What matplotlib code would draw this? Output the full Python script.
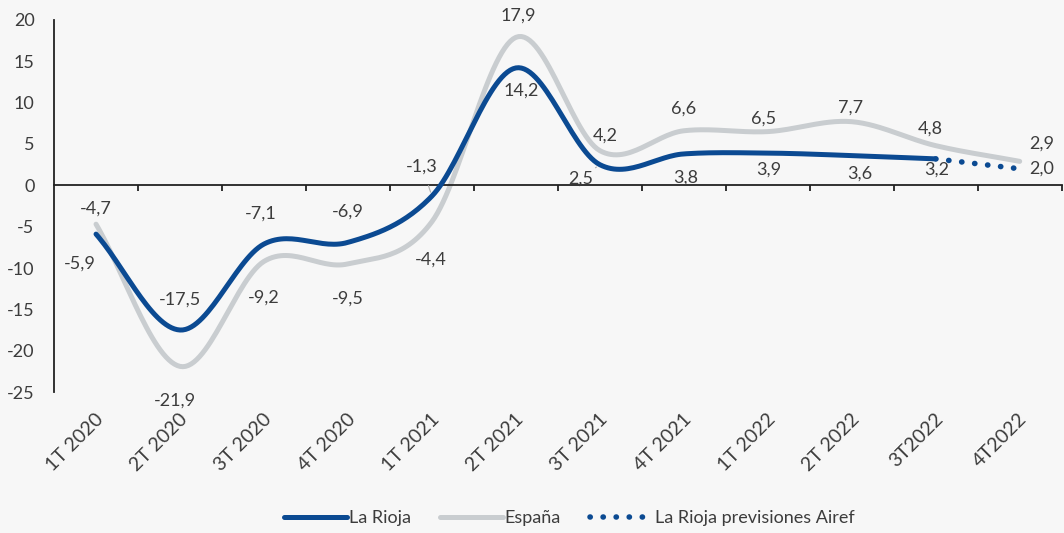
import numpy as np
import matplotlib
matplotlib.use('Agg')
import matplotlib.pyplot as plt
from matplotlib.lines import Line2D

# Data
quarters = ['1T 2020', '2T 2020', '3T 2020', '4T 2020', '1T 2021', '2T 2021',
            '3T 2021', '4T 2021', '1T 2022', '2T 2022', '3T2022', '4T2022']
rioja = [-5.9, -17.5, -7.1, -6.9, -1.3, 14.2, 2.5, 3.8, 3.9, 3.6, 3.2]
rioja_forecast = [3.2, 2.0]
espana = [-4.7, -21.9, -9.2, -9.5, -4.4, 17.9, 4.2, 6.6, 6.5, 7.7, 4.8, 2.9]

BLUE = '#0b4a92'
GREY = '#c9cdd0'
TXT = '#3c3c3c'
BG = '#f7f7f7'

plt.rcParams['font.family'] = ['Lato', 'DejaVu Sans']
plt.rcParams['axes.unicode_minus'] = False


def smooth(x, y, n=30):
    # Catmull-Rom style smoothing, similar to spreadsheet smoothed lines
    x = np.asarray(x, float); y = np.asarray(y, float)
    if len(x) < 3:
        return x, y
    px = np.concatenate([[2 * x[0] - x[1]], x, [2 * x[-1] - x[-2]]])
    py = np.concatenate([[2 * y[0] - y[1]], y, [2 * y[-1] - y[-2]]])
    xs, ys = [], []
    for i in range(1, len(px) - 2):
        t = np.linspace(0, 1, n, endpoint=(i == len(px) - 3))
        for arr, out in ((px, xs), (py, ys)):
            p0, p1, p2, p3 = arr[i - 1], arr[i], arr[i + 1], arr[i + 2]
            out.append(0.5 * ((2 * p1) + (-p0 + p2) * t
                              + (2 * p0 - 5 * p1 + 4 * p2 - p3) * t ** 2
                              + (-p0 + 3 * p1 - 3 * p2 + p3) * t ** 3))
    return np.concatenate(xs), np.concatenate(ys)


fig = plt.figure(figsize=(10.64, 5.33), dpi=100, facecolor=BG)
ax = fig.add_axes([0.0508, 0.2645, 0.947, 0.698])
ax.set_facecolor(BG)

x_all = np.arange(len(quarters))
xs, ys = smooth(x_all, espana)
ax.plot(xs, ys, color=GREY, lw=3.6, solid_capstyle='round', zorder=2)
xs, ys = smooth(x_all[:len(rioja)], rioja)
ax.plot(xs, ys, color=BLUE, lw=3.6, solid_capstyle='round', zorder=3)
ax.plot(x_all[len(rioja) - 1:], rioja_forecast, color=BLUE, lw=4,
        linestyle=(0, (0.05, 2.3)), dash_capstyle='round', zorder=3)

ax.set_xlim(-0.5, len(quarters) - 0.5)
ax.set_ylim(-25, 20)
ax.set_yticks(np.arange(-25, 21, 5))
ax.tick_params(axis='y', length=0, labelsize=13, labelcolor=TXT, pad=14)
ax.spines['left'].set_color('#222222')
ax.spines['left'].set_linewidth(1.3)
ax.spines['bottom'].set_position(('data', 0))
ax.spines['bottom'].set_color('#222222')
ax.spines['bottom'].set_linewidth(1.3)
for s in ('top', 'right'):
    ax.spines[s].set_visible(False)
ax.set_xticks(np.arange(0.5, len(quarters) - 0.4, 1))
ax.set_xticklabels([])
ax.tick_params(axis='x', direction='out', length=4, width=1.3, color='#222222')

for i, q in enumerate(quarters):
    ax.annotate(q, xy=(i, -25), xycoords='data', xytext=(-1, -13),
                textcoords='offset points', rotation=45, ha='right', va='top',
                rotation_mode='anchor', fontsize=14, color=TXT)


def lab(v, xi, yv, dx, dy, leader=False):
    props = None
    if leader:
        props = dict(arrowstyle='-', color='#b0b0b0', lw=0.8,
                     shrinkA=6, shrinkB=3)
    ax.annotate(f'{v:.1f}'.replace('.', ','), xy=(xi, yv), xytext=(dx, dy),
                textcoords='offset points', ha='center', va='center',
                fontsize=13, color=TXT, zorder=5, arrowprops=props)


# offsets in points from each data point
rioja_off = [(-12, -21), (0, 22), (-2, 22), (0, 22), (-7, 21), (4, -16),
             (-14, -10), (1, -17), (1, -12), (6, -13), (1, -8)]
for i, (v, o) in enumerate(zip(rioja, rioja_off)):
    lab(v, i, v, *o, leader=(i in (4, 6)))
lab(rioja_forecast[-1], 11, rioja_forecast[-1], 16, 0)

esp_off = [(0, 11), (-4, -25), (0, -26), (0, -25), (-1, -27), (2, 16),
           (4, 11), (0, 16), (-3, 9), (-1, 10), (-4, 12), (16, 13)]
for i, (v, o) in enumerate(zip(espana, esp_off)):
    lab(v, i, v, *o)

handles = [Line2D([], [], color=BLUE, lw=3.6, solid_capstyle='round'),
           Line2D([], [], color=GREY, lw=3.6, solid_capstyle='round'),
           Line2D([], [], color=BLUE, lw=4, linestyle=(0, (0.05, 2.3)),
                  dash_capstyle='round')]
fig.legend(handles, ['La Rioja', 'España', 'La Rioja previsiones Airef'],
           loc='center', bbox_to_anchor=(0.535, 0.028), ncol=3, frameon=False,
           fontsize=13, labelcolor=TXT, handlelength=3.5, handletextpad=0.1,
           columnspacing=1.6)

fig.savefig('out.png', dpi=100, facecolor=BG)
